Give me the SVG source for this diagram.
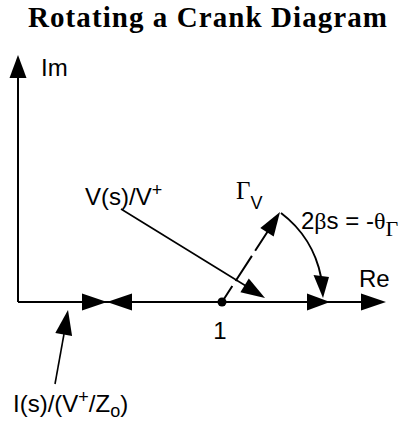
<svg xmlns="http://www.w3.org/2000/svg" width="412" height="421" viewBox="0 0 412 421">
<style>
.ln{stroke:#000;fill:none;stroke-width:2}
.thin{stroke:#000;fill:none;stroke-width:1.6}
.hd{fill:#000;stroke:none}
.lbl{font-family:"Liberation Sans",Arial,sans-serif;font-size:24px;fill:#000}
.gr{font-family:"Liberation Serif","Times New Roman",serif}
.title{font-family:"Liberation Serif","Times New Roman",serif;font-weight:bold;font-size:29px;fill:#000}
</style>
<rect width="412" height="421" fill="#fff"/>
<text id="title" class="title" x="28" y="27" textLength="359" lengthAdjust="spacing">Rotating a Crank Diagram</text>
<g id="axes">
<line class="ln" x1="18" y1="302" x2="18" y2="70"/>
<polygon class="hd" points="18,55 9.5,78 26.5,78"/>
<line class="ln" x1="18" y1="302" x2="370" y2="302"/>
<polygon class="hd" points="386,302 361,293.5 361,310.5"/>
<text class="lbl" x="41" y="76" font-size="25">Im</text>
<text class="lbl" x="359" y="287">Re</text>
</g>
<g id="current-marker">
<polygon class="hd" points="82,293.5 82,310.5 107,302"/>
<polygon class="hd" points="132,293.5 132,310.5 107,302"/>
</g>
<g id="unit-point">
<circle cx="222" cy="302" r="4.5" fill="#000"/>
<text class="lbl" x="220" y="339" text-anchor="middle">1</text>
</g>
<g id="connectors">
<line class="ln" x1="222" y1="302" x2="268" y2="231" stroke-dasharray="30 6" stroke-dashoffset="11"/>
<polygon class="hd" points="280,212 273.7,236.5 260.3,227.9"/>
<path class="ln" d="M281,213 A105,105 0 0 1 321,277"/>
<polygon class="hd" points="323,298 313.5,275 329,277"/>
<polygon class="hd" points="330,302 307,293.5 307,310.5"/>
<line class="thin" x1="121" y1="209" x2="246" y2="286"/>
<polygon class="hd" points="265,298 240.4,292.2 248.8,278.6"/>
<line class="thin" x1="55" y1="384" x2="64" y2="334"/>
<polygon class="hd" points="68,310 72.1,336.1 55.3,333.1"/>
</g>
<g id="label-v">
<text class="lbl" x="85" y="205">V(s)/V<tspan font-size="18" dy="-9">+</tspan></text>
</g>
<g id="label-gamma">
<text class="lbl" x="236" y="199"><tspan class="gr" font-size="25">Γ</tspan><tspan font-size="18" dy="10">V</tspan></text>
</g>
<g id="label-angle">
<text class="lbl" x="301" y="229" font-size="25">2<tspan class="gr">β</tspan>s = -<tspan class="gr">θ</tspan><tspan class="gr" font-size="22" dy="7">Γ</tspan></text>
</g>
<g id="label-i">
<text class="lbl" x="13" y="412">I(s)/(V<tspan font-size="18" dy="-9">+</tspan><tspan dy="9">/Z</tspan><tspan font-size="18" dy="5">o</tspan><tspan dy="-5">)</tspan></text>
</g>
</svg>
